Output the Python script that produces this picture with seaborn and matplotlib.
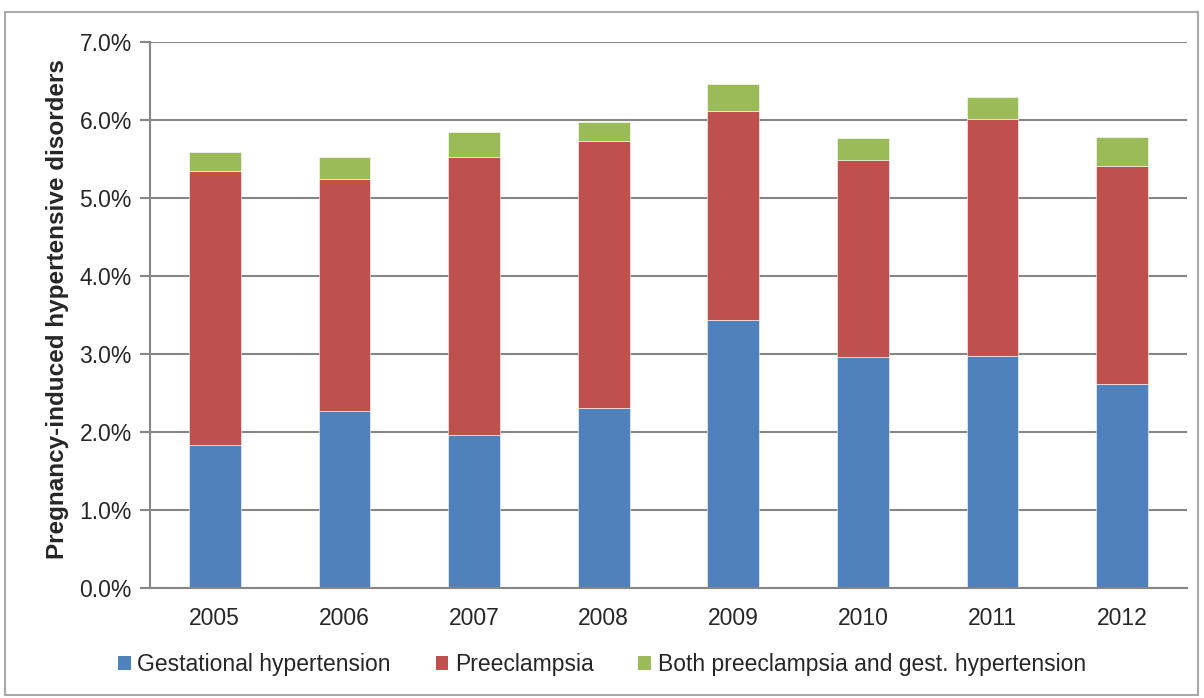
import numpy as np
import pandas as pd
import seaborn as sns
import matplotlib.pyplot as plt
import matplotlib.ticker as ticker
from matplotlib.patches import Rectangle, Patch

years = ['2005', '2006', '2007', '2008', '2009', '2010', '2011', '2012']
gestational = [1.83, 2.27, 1.96, 2.31, 3.44, 2.96, 2.98, 2.62]
preeclampsia = [3.52, 2.97, 3.56, 3.42, 2.67, 2.53, 3.03, 2.79]
both = [0.24, 0.29, 0.32, 0.24, 0.35, 0.28, 0.28, 0.37]

series_names = ['Gestational hypertension', 'Preeclampsia',
                'Both preeclampsia and gest. hypertension']
colors = ['#4F81BD', '#C0504D', '#9BBB59']

df = pd.DataFrame({'Year': years, 'gest': gestational, 'pre': preeclampsia, 'both': both})

sns.set_style('white')
plt.rcParams['font.family'] = ['Liberation Sans', 'DejaVu Sans']

fig = plt.figure(figsize=(12.04, 6.98), dpi=100)
ax = fig.add_axes([150 / 1204, 1 - 588 / 698, (1187 - 150) / 1204, (588 - 42) / 698])

grid_c = '#868686'
ax.set_axisbelow(True)
ax.yaxis.grid(True, color=grid_c, linewidth=1.5)

bottom = np.zeros(len(years))
for col, c in zip(['gest', 'pre', 'both'], colors):
    sns.barplot(data=df, x='Year', y=col, color=c, width=0.4, bottom=bottom,
                ax=ax, saturation=1, edgecolor='white', linewidth=0.4)
    bottom = bottom + df[col].values

ax.set_ylim(0, 7)
ax.set_xlim(-0.5, 7.5)
ax.yaxis.set_major_locator(ticker.MultipleLocator(1))
ax.yaxis.set_major_formatter(ticker.FuncFormatter(lambda v, p: f'{v:.1f}%'))
ax.set_xlabel('')
ax.set_ylabel('Pregnancy-induced hypertensive disorders', fontsize=17.5,
              fontweight='bold')
ax.yaxis.set_label_coords(-0.078, 0.51)

for s in ['top', 'right']:
    ax.spines[s].set_visible(False)
for s in ['left', 'bottom']:
    ax.spines[s].set_color(grid_c)
    ax.spines[s].set_linewidth(1.5)

ax.set_xticks(np.arange(len(years)))
ax.set_xticklabels(years)
ax.set_xticks(np.arange(-0.5, len(years) + 0.5, 1), minor=True)
ax.tick_params(axis='x', which='major', length=0, labelsize=16.5, pad=14)
ax.tick_params(axis='x', which='minor', length=6, width=1.5, color=grid_c, direction='out')
ax.tick_params(axis='y', length=7, width=1.5, color=grid_c, direction='out',
               labelsize=16.5, pad=6, left=True)

handles = [Patch(facecolor=c, edgecolor='none') for c in colors]
fig.legend(handles, series_names, loc='center', bbox_to_anchor=(602 / 1204, 1 - 665 / 698),
           ncol=3, frameon=False, fontsize=16.5, handlelength=0.55, handleheight=0.55,
           handletextpad=0.3, columnspacing=1.95)

fig.patches.append(Rectangle((5 / 1204, 3 / 698), 1193 / 1204, 683 / 698,
                             transform=fig.transFigure, fill=False,
                             edgecolor='#AAAAAA', linewidth=1.5))

fig.savefig('out.png', dpi=100)
